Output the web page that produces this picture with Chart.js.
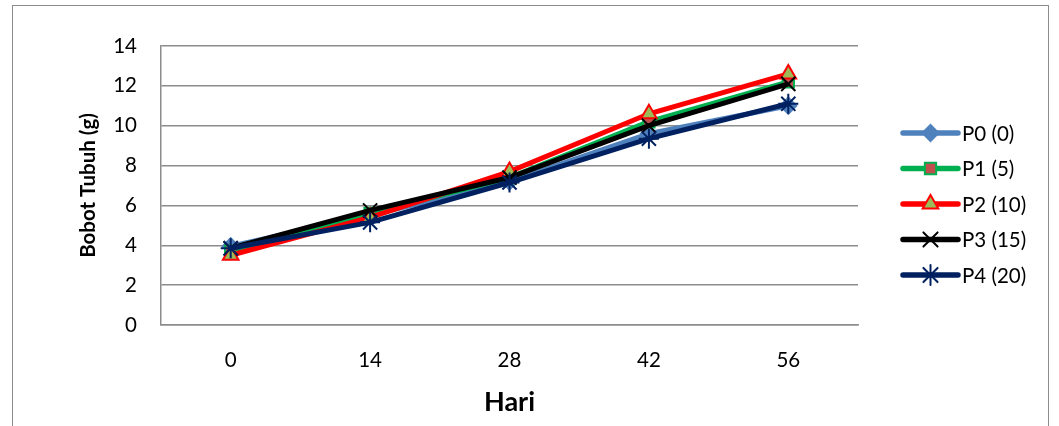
<!DOCTYPE html>
<html>
<head>
<meta charset="utf-8">
<script src="https://cdn.jsdelivr.net/npm/chart.js@4"></script>
<style>
    body { margin: 0; background: #fff; }
    #wrap { position: relative; width: 1059px; height: 426px; overflow: hidden; }
    #frame { position: absolute; left: 12px; top: 5px; width: 1035px; height: 440px; border: 1px solid #8c8c8c; }
    canvas { position: absolute; left: 0; top: 0; }
</style>
</head>
<body>
<div id="wrap">
    <div id="frame"></div>
    <canvas id="myLineChart" width="1059" height="426"></canvas>
</div>
<script>
// data
const hari = ['0', '14', '28', '42', '56'];
const p0 = [3.95, 5.5, 7.2, 9.6, 11.0];
const p1 = [3.7, 5.6, 7.4, 10.2, 12.2];
const p2 = [3.5, 5.4, 7.7, 10.6, 12.6];
const p3 = [3.85, 5.75, 7.4, 10.0, 12.1];
const p4 = [3.85, 5.15, 7.15, 9.35, 11.1];
const seriesNames = ['P0 (0)', 'P1 (5)', 'P2 (10)', 'P3 (15)', 'P4 (20)'];
const yTicks = [0, 2, 4, 6, 8, 10, 12, 14];

const FONT = 'Lato, "Open Sans", sans-serif';

function makeSet(i, data, line, style, fill, border, radius) {
    return {
        label: seriesNames[i],
        data: data,
        borderColor: line,
        borderWidth: 5,
        pointStyle: style,
        pointRadius: radius,
        pointBackgroundColor: fill,
        pointBorderColor: border,
        pointBorderWidth: 2,
        tension: 0,
        order: 4 - i
    };
}

const datasets = [
    makeSet(0, p0, '#4F81BD', 'rectRot', '#4F81BD', '#4F81BD', 8),
    makeSet(1, p1, '#00B050', 'rect', '#C0504D', '#00B050', 8),
    makeSet(2, p2, '#FF0000', 'triangle', '#9BBB59', '#FF0000', 9),
    makeSet(3, p3, '#000000', 'crossRot', '#000000', '#000000', 10),
    makeSet(4, p4, '#002060', 'star', '#002060', '#002060', 10)
];

// legenda di kanan: garis + penanda
const sideLegend = {
    id: 'sideLegend',
    afterDraw(chart) {
        const ctx = chart.ctx;
        const x0 = 903, x1 = 958;
        const yStart = 133, step = 35.5;
        chart.data.datasets.forEach((ds, i) => {
            const y = yStart + i * step;
            ctx.save();
            ctx.strokeStyle = ds.borderColor;
            ctx.lineWidth = 5.5;
            ctx.lineCap = 'round';
            ctx.beginPath();
            ctx.moveTo(x0, y);
            ctx.lineTo(x1, y);
            ctx.stroke();
            ctx.fillStyle = ds.pointBackgroundColor;
            ctx.strokeStyle = ds.pointBorderColor;
            ctx.lineWidth = 2;
            Chart.helpers.drawPoint(ctx, { pointStyle: ds.pointStyle, radius: ds.pointRadius, rotation: 0, borderWidth: 2 }, (x0 + x1) / 2, y);
            ctx.fillStyle = '#000';
            ctx.font = '20.5px ' + FONT;
            ctx.textBaseline = 'middle';
            ctx.textAlign = 'left';
            ctx.fillText(ds.label, 962, y + 1);
            ctx.restore();
        });
    }
};

const ctx = document.getElementById('myLineChart').getContext('2d');
new Chart(ctx, {
    type: 'line',
    data: { labels: hari, datasets: datasets },
    options: {
        responsive: false,
        animation: false,
        layout: { padding: { left: 72, right: 201, top: 46, bottom: 4 } },
        plugins: {
            legend: { display: false },
            tooltip: { enabled: false }
        },
        scales: {
            x: {
                offset: true,
                grid: { display: false, drawTicks: false },
                border: { display: true, color: '#8c8c8c', width: 1.5 },
                ticks: { color: '#000', font: { family: FONT, size: 20.5 }, padding: 23 },
                title: { display: true, text: 'Hari', color: '#000', font: { family: FONT, size: 27, weight: 'bold' }, padding: { top: 8 } },
                afterFit: s => { s.height = 97; }
            },
            y: {
                min: 0,
                max: 14,
                afterBuildTicks: s => { s.ticks = yTicks.map(v => ({ value: v })); },
                grid: { color: '#8c8c8c', lineWidth: 1.5, drawTicks: false },
                border: { display: true, color: '#8c8c8c', width: 1.5 },
                ticks: { color: '#000', font: { family: FONT, size: 20.5 }, padding: 24 },
                title: { display: true, text: 'Bobot Tubuh (g)', color: '#000', font: { family: FONT, size: 20.5, weight: 'bold' }, padding: { bottom: 9 } },
                afterFit: s => { s.width = 89; }
            }
        }
    },
    plugins: [sideLegend]
});
</script>
</body>
</html>
